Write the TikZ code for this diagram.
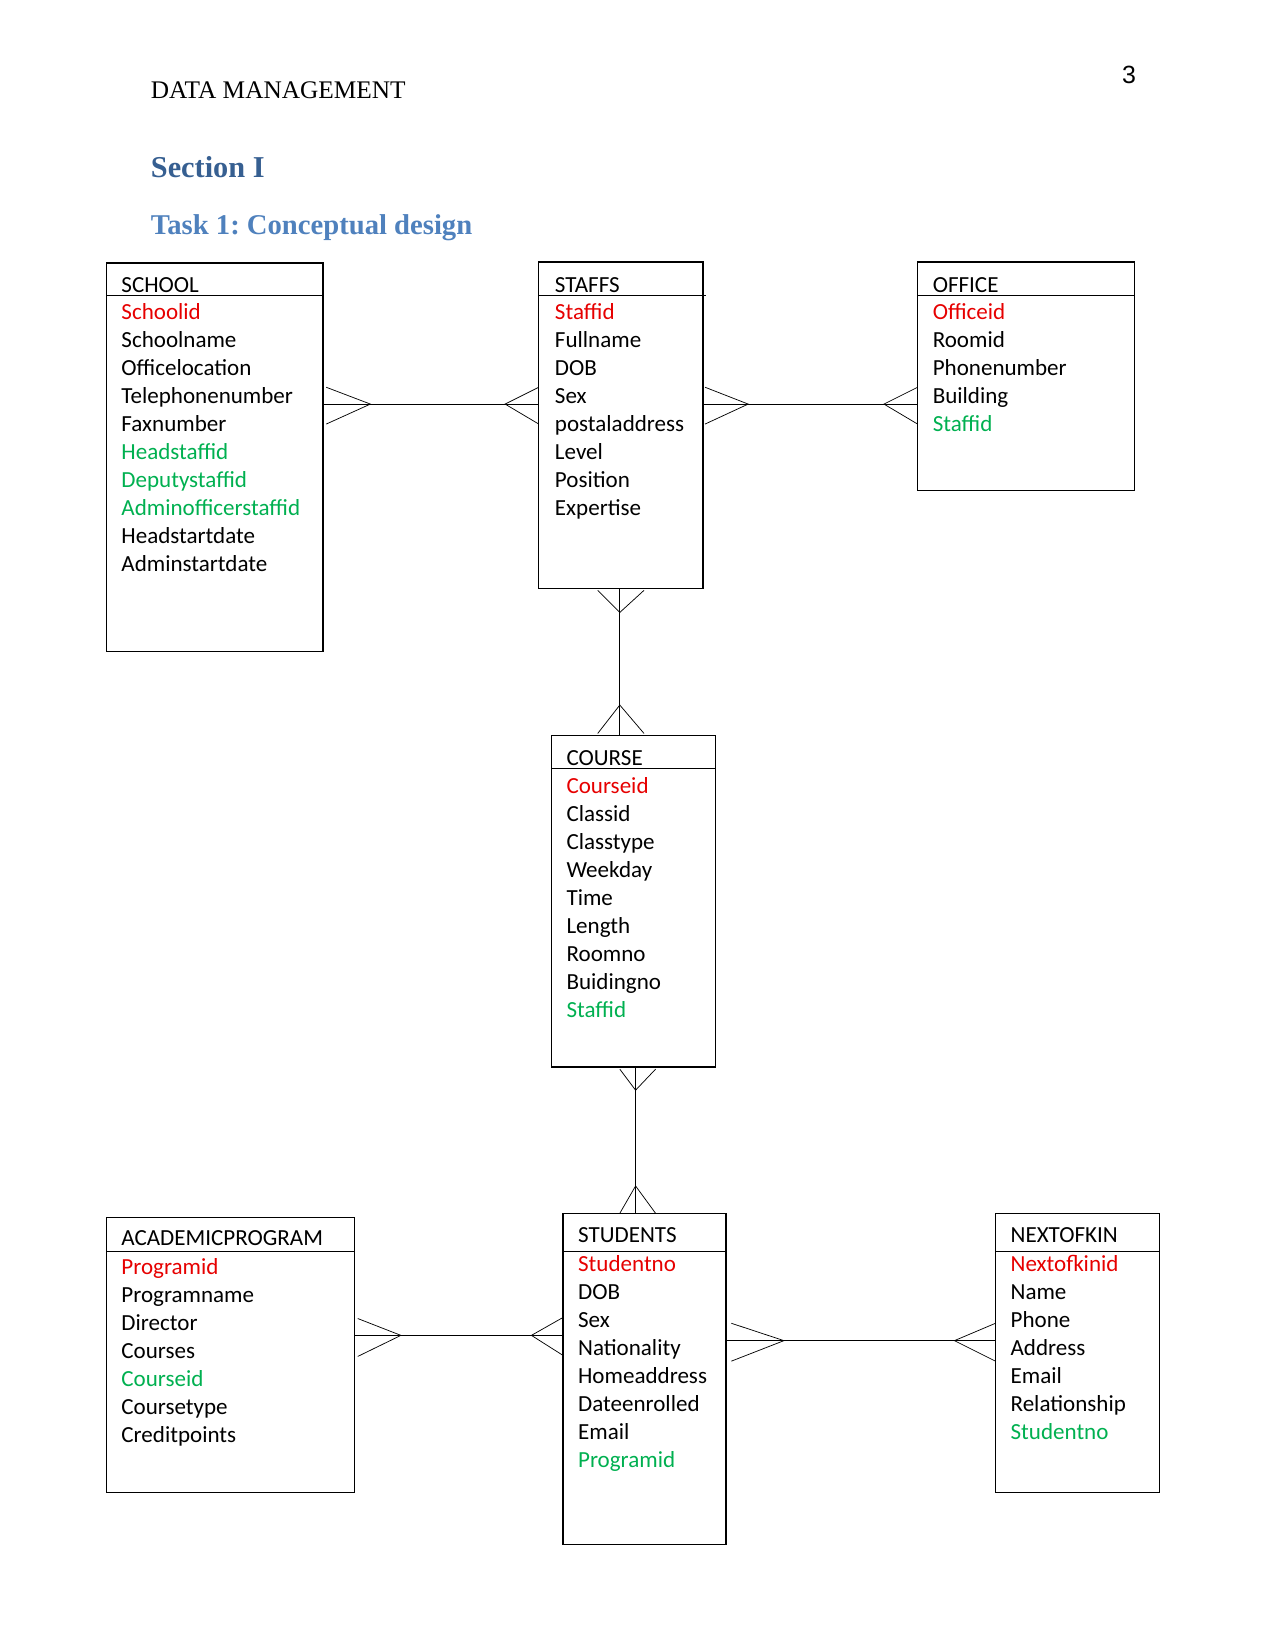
\documentclass[tikz,border=0pt]{standalone}
\usepackage{fontspec}
\usetikzlibrary{calc}
\setmainfont{Liberation Serif}
\newfontfamily\erfont{Carlito}
\newfontfamily\pagefont{Liberation Sans}
\newcommand\pxu{0.5068pt}
\newcommand\attrfont{\erfont\fontsize{11.1}{13.4}\selectfont}
\definecolor{pkcol}{RGB}{230,0,0}
\definecolor{fkcol}{RGB}{0,176,80}
\definecolor{headcol}{RGB}{54,95,145}
\definecolor{taskcol}{RGB}{79,129,189}
\frenchspacing
\tikzset{
  entity/.style={draw,line width=0.6pt,anchor=north west,inner sep=0pt,outer sep=0pt},
  title/.style={anchor=base west,inner sep=0pt,font=\attrfont},
  field/.style={anchor=base west,inner sep=0pt,font=\attrfont},
  link/.style={line width=0.5pt},
  foot/.style={line width=0.35pt},
}
\begin{document}
\begin{tikzpicture}[x=\pxu,y=-\pxu]
    \useasboundingbox (0,0) rectangle (1212,1568);

    % page heading
    \node[anchor=base west,inner sep=0pt,font=\fontsize{12.2}{14}\selectfont] (header) at (143,93.5) {DATA MANAGEMENT};
    \node[anchor=base west,inner sep=0pt,font=\pagefont\fontsize{12}{14}\selectfont] (pagenum) at (1066,79) {3};
    \node[anchor=base west,inner sep=0pt,text=headcol,font=\bfseries\fontsize{14.6}{17}\selectfont] (section) at (143,168.5) {Section I};
    \node[anchor=base west,inner sep=0pt,text=taskcol,font=\bfseries\fontsize{13.8}{16}\selectfont] (task) at (143,222.5) {Task 1: Conceptual design};

    % entities
    \node[entity,minimum width=206*\pxu,minimum height=369*\pxu] (school) at (101,250) {};
    \draw[line width=0.6pt] ($(school.north west)+(0,31)$) -- ($(school.north east)+(0,31)$);
    \node[title] (school-t) at (115,277.5) {SCHOOL};
    \foreach \c/\t [count=\i] in {pkcol/Schoolid,black/Schoolname,black/Officelocation,black/Telephonenumber,black/Faxnumber,fkcol/Headstaffid,fkcol/Deputystaffid,fkcol/Adminofficerstaffid,black/Headstartdate,black/Adminstartdate}
        \node[field,text=\c] (school-\i) at (115,{303.5+26.6*(\i-1)}) {\t};

    \node[entity,minimum width=156*\pxu,minimum height=310*\pxu] (staffs) at (512,249) {};
    \draw[line width=0.6pt] ($(staffs.north west)+(0,32)$) -- ($(staffs.north east)+(3,32)$);
    \node[title] (staffs-t) at (527,277.5) {STAFFS};
    \foreach \c/\t [count=\i] in {pkcol/Staffid,black/Fullname,black/DOB,black/Sex,black/postaladdress,black/Level,black/Position,black/Expertise}
        \node[field,text=\c] (staffs-\i) at (527,{303.5+26.6*(\i-1)}) {\t};

    \node[entity,minimum width=206*\pxu,minimum height=217*\pxu] (office) at (872,249) {};
    \draw[line width=0.6pt] ($(office.north west)+(0,32)$) -- ($(office.north east)+(0,32)$);
    \node[title] (office-t) at (886,277.5) {OFFICE};
    \foreach \c/\t [count=\i] in {pkcol/Officeid,black/Roomid,black/Phonenumber,black/Building,fkcol/Staffid}
        \node[field,text=\c] (office-\i) at (886,{303.5+26.6*(\i-1)}) {\t};

    \node[entity,minimum width=156*\pxu,minimum height=315*\pxu] (course) at (524,699) {};
    \draw[line width=0.6pt] ($(course.north west)+(0,31.5)$) -- ($(course.north east)+(0,31.5)$);
    \node[title] (course-t) at (538,727) {COURSE};
    \foreach \c/\t [count=\i] in {pkcol/Courseid,black/Classid,black/Classtype,black/Weekday,black/Time,black/Length,black/Roomno,black/Buidingno,fkcol/Staffid}
        \node[field,text=\c] (course-\i) at (538,{754+26.6*(\i-1)}) {\t};

    \node[entity,minimum width=236*\pxu,minimum height=261*\pxu] (program) at (101,1157) {};
    \draw[line width=0.6pt] ($(program.north west)+(0,32.5)$) -- ($(program.north east)+(0,32.5)$);
    \node[title] (program-t) at (115,1184) {ACADEMICPROGRAM};
    \foreach \c/\t [count=\i] in {pkcol/Programid,black/Programname,black/Director,black/Courses,fkcol/Courseid,black/Coursetype,black/Creditpoints}
        \node[field,text=\c] (program-\i) at (115,{1211.5+26.6*(\i-1)}) {\t};

    \node[entity,minimum width=155*\pxu,minimum height=315*\pxu] (students) at (535,1153) {};
    \draw[line width=0.6pt] ($(students.north west)+(0,36.5)$) -- ($(students.north east)+(0,36.5)$);
    \node[title] (students-t) at (549,1181) {STUDENTS};
    \foreach \c/\t [count=\i] in {pkcol/Studentno,black/DOB,black/Sex,black/Nationality,black/Homeaddress,black/Dateenrolled,black/Email,fkcol/Programid}
        \node[field,text=\c] (students-\i) at (549,{1208+26.6*(\i-1)}) {\t};

    \node[entity,minimum width=156*\pxu,minimum height=265*\pxu] (kin) at (946,1153) {};
    \draw[line width=0.6pt] ($(kin.north west)+(0,36.5)$) -- ($(kin.north east)+(0,36.5)$);
    \node[title] (kin-t) at (960,1181) {NEXTOFKIN};
    \foreach \c/\t [count=\i] in {pkcol/Nextofkinid,black/Name,black/Phone,black/Address,black/Email,black/Relationship,fkcol/Studentno}
        \node[field,text=\c] (kin-\i) at (960,{1208+26.6*(\i-1)}) {\t};

    % relationship lines
    \coordinate (r1) at (0,384);
    \coordinate (r2) at (0,1269);
    \coordinate (r3) at (0,1274);
    \coordinate (c1) at (589,0);
    \coordinate (c2) at (604,0);

    \draw[link] (school.east |- r1) -- (staffs.west |- r1);
    \draw[foot] ($(school.east |- r1)+(3,-16)$) -- ++(42,16) -- ++(-42,19);
    \draw[foot] ($(staffs.west |- r1)+(0,-16)$) -- ++(-32,16) -- ++(32,19);

    \draw[link] (staffs.east |- r1) -- (office.west |- r1);
    \draw[foot] ($(staffs.east |- r1)+(2,-16)$) -- ++(41,16) -- ++(-41,19);
    \draw[foot] ($(office.west |- r1)+(0,-16)$) -- ++(-32,16) -- ++(32,19);

    \draw[link] (staffs.south -| c1) -- (course.north -| c1);
    \draw[foot] ($(staffs.south -| c1)+(-21,2)$) -- ++(21,21) -- ++(23,-21);
    \draw[foot] ($(course.north -| c1)+(-21,-2)$) -- ++(21,-27) -- ++(23,27);

    \draw[link] (course.south -| c2) -- (students.north -| c2);
    \draw[foot] ($(course.south -| c2)+(-15,2)$) -- ++(15,20) -- ++(19,-20);
    \draw[foot] ($(students.north -| c2)+(-15,0)$) -- ++(15,-26) -- ++(19,26);

    \draw[link] (program.east |- r2) -- (students.west |- r2);
    \draw[foot] ($(program.east |- r2)+(3,-16)$) -- ++(41,16) -- ++(-41,20);
    \draw[foot] ($(students.west |- r2)+(0,-17)$) -- ++(-30,17) -- ++(30,19);

    \draw[link] (students.east |- r3) -- (kin.west |- r3);
    \draw[foot] ($(students.east |- r3)+(5,-16.5)$) -- ++(50,16.5) -- ++(-50,19.5);
    \draw[foot] ($(kin.west |- r3)+(0,-16.5)$) -- ++(-39,16.5) -- ++(39,19.5);
\end{tikzpicture}
\end{document}
